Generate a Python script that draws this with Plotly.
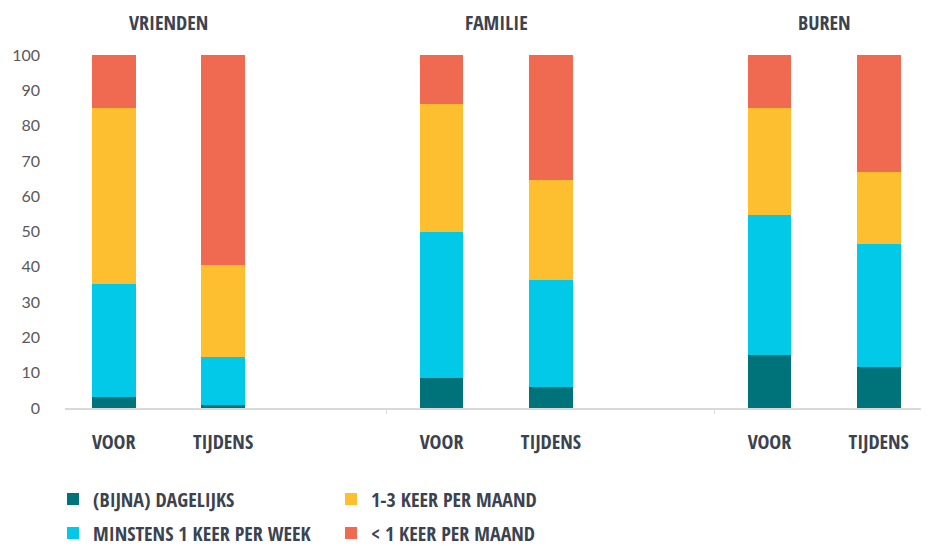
import plotly.graph_objects as go

groups = ["VRIENDEN", "FAMILIE", "BUREN"]
x_slots = [0, 1, 3, 4, 6, 7]
tick_labels = ["VOOR", "TIJDENS", "VOOR", "TIJDENS", "VOOR", "TIJDENS"]
group_centers = [0.5, 3.5, 6.5]

series_names = ["(BIJNA) DAGELIJKS", "MINSTENS 1 KEER PER WEEK", "1-3 KEER PER MAAND", "< 1 KEER PER MAAND"]
dagelijks = [3.1, 0.8, 8.5, 6.0, 15.1, 11.5]
minstens_week = [31.9, 13.7, 41.4, 30.2, 39.7, 35.0]
keer_1_3_maand = [49.9, 26.0, 36.2, 28.3, 30.1, 20.3]
minder_1_maand = [15.1, 59.5, 13.9, 35.5, 15.1, 33.2]

series_values = [dagelijks, minstens_week, keer_1_3_maand, minder_1_maand]
colors = ["#00737A", "#03C9E8", "#FDBF2F", "#F06A52"]
legend_ids = ["legend", "legend2", "legend", "legend2"]

cond_font = "Open Sans Condensed, Roboto Condensed, DejaVu Sans Condensed, sans-serif"
text_col = "#3B4350"
legend_font = dict(family=cond_font, size=20, color=text_col, weight="bold")

W, H = 921, 542  # page adds an 8px body margin

fig = go.Figure()
for name, vals, col, lg in zip(series_names, series_values, colors, legend_ids):
    fig.add_trace(go.Bar(
        x=x_slots, y=vals, name=name, marker=dict(color=col, line=dict(width=0)),
        width=0.40, legend=lg,
    ))

for g, c in zip(groups, group_centers):
    fig.add_annotation(x=c, xref="x", y=1.0907, yref="paper", text=g, showarrow=False,
                       yanchor="middle", font=dict(family=cond_font, size=20, color=text_col, weight="bold"))

common_legend = dict(orientation="h", xref="container", yref="container",
                     xanchor="left", yanchor="middle", entrywidth=233, entrywidthmode="pixels",
                     font=legend_font, itemclick=False, traceorder="normal",
                     bgcolor="rgba(0,0,0,0)")

fig.update_layout(
    barmode="stack",
    width=W, height=H,
    margin=dict(l=57, r=0, t=47, b=142, autoexpand=False),
    plot_bgcolor="white", paper_bgcolor="white",
    bargap=0,
    showlegend=True,
    legend=dict(common_legend, x=45 / W, y=1 - 491 / H),
    legend2=dict(common_legend, x=45 / W, y=1 - 525 / H),
    xaxis=dict(range=[-0.446, 7.46], tickvals=x_slots, ticktext=tick_labels, automargin=False,
               showgrid=False, zeroline=False, showline=True, linecolor="#D9D9D9", linewidth=1.5,
               ticks="", ticklabelstandoff=15,
               minor=dict(tickvals=[2.5, 5.5], ticks="outside", ticklen=4, tickcolor="#D9D9D9"),
               tickfont=dict(family=cond_font, size=20, color=text_col, weight="bold")),
    yaxis=dict(range=[0, 100], tickvals=list(range(0, 101, 10)), showgrid=False, zeroline=False,
               showline=False, ticks="", ticklabelstandoff=24, automargin=False,
               tickfont=dict(family="Lato, Open Sans, sans-serif", size=16, color="#595959")),
)

fig.write_html("out.html")
